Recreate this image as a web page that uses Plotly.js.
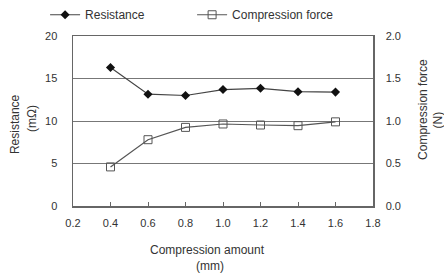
<!DOCTYPE html>
<html>
<head>
<meta charset="utf-8">
<script src="https://cdn.plot.ly/plotly-3.0.1.min.js"></script>
<style>html,body{margin:0;padding:0;background:#fff;}#chart{width:444px;height:274px;}</style>
</head>
<body>
<div id="chart"></div>
<script>
const compression = [0.4, 0.6, 0.8, 1.0, 1.2, 1.4, 1.6];
const resistance = [16.3, 13.15, 13.0, 13.7, 13.85, 13.45, 13.4];
const force = [0.46, 0.78, 0.925, 0.965, 0.953, 0.945, 0.99];
const xTicks = [0.2, 0.4, 0.6, 0.8, 1.0, 1.2, 1.4, 1.6, 1.8];
const xTickLabels = ['0.2', '0.4', '0.6', '0.8', '1.0', '1.2', '1.4', '1.6', '1.8'];
const leftTicks = [0, 5, 10, 15, 20];
const rightTicks = [0, 0.5, 1.0, 1.5, 2.0];
const rightTickLabels = ['0.0', '0.5', '1.0', '1.5', '2.0'];
const xTitleLines = ['Compression amount', '(mm)'];
const leftTitleLines = ['Resistance', '(mΩ)'];
const rightTitleLines = ['Compression force', '(N)'];

const font = {family: 'Liberation Sans, Arial, sans-serif', size: 11, color: '#333'};
const titleFont = {family: 'Liberation Sans, Arial, sans-serif', size: 12, color: '#333'};
const legendFont = {family: 'Liberation Sans, Arial, sans-serif', size: 12, color: '#333'};

const data = [
  {x: compression, y: resistance, name: 'Resistance', type: 'scatter', mode: 'lines+markers',
   line: {color: '#444', width: 1.2}, marker: {symbol: 'diamond', size: 7, color: '#111'}, yaxis: 'y', legend: 'legend'},
  {x: compression, y: force, name: 'Compression force', type: 'scatter', mode: 'lines+markers',
   line: {color: '#555', width: 1.2}, marker: {symbol: 'square-open', size: 8, color: '#555', line: {width: 1}}, yaxis: 'y2', legend: 'legend2'}
];

function titleAnn(text, x, y, angle) {
  return {text: text, xref: 'paper', yref: 'paper', x: x, y: y, xanchor: 'center', yanchor: 'middle',
          showarrow: false, textangle: angle, font: titleFont};
}

const layout = {
  width: 444, height: 274,
  margin: {l: 73, r: 71, t: 36, b: 68, autoexpand: false},
  paper_bgcolor: '#fff', plot_bgcolor: '#fff',
  font: font,
  showlegend: true,
  legend: {orientation: 'h', x: -0.093, xanchor: 'left', y: 1.125, yanchor: 'middle',
           font: legendFont, itemwidth: 30, bgcolor: 'rgba(0,0,0,0)'},
  legend2: {orientation: 'h', x: 0.397, xanchor: 'left', y: 1.125, yanchor: 'middle',
           font: legendFont, itemwidth: 30, bgcolor: 'rgba(0,0,0,0)'},
  xaxis: {range: [0.2, 1.8], tickvals: xTicks, ticktext: xTickLabels, showgrid: false, zeroline: false,
          showline: true, linecolor: '#666', linewidth: 1.5, mirror: true, automargin: false,
          ticks: 'inside', ticklen: 4, tickcolor: '#666', tickfont: font, ticklabelstandoff: 6},
  yaxis: {range: [0, 20], tickvals: leftTicks, showgrid: true, gridcolor: '#777', gridwidth: 1, zeroline: false,
          showline: true, linecolor: '#666', linewidth: 1.5, ticks: '', ticklabelstandoff: 12, tickfont: font,
          automargin: false},
  yaxis2: {range: [0, 2], tickvals: rightTicks, ticktext: rightTickLabels, overlaying: 'y', side: 'right',
           showgrid: false, zeroline: false, showline: true, linecolor: '#666', linewidth: 1.5, ticks: '',
           automargin: false, ticklabelstandoff: 9, tickfont: font},
  annotations: [
    titleAnn(xTitleLines[0], 0.4467, -0.2588, 0),
    titleAnn(xTitleLines[1], 0.4567, -0.353, 0),
    titleAnn(leftTitleLines[0], -0.1933, 0.482, -90),
    titleAnn(leftTitleLines[1], -0.1367, 0.518, -90),
    titleAnn(rightTitleLines[0], 1.1667, 0.565, -90),
    titleAnn(rightTitleLines[1], 1.218, 0.506, -90)
  ]
};

Plotly.newPlot('chart', data, layout, {displayModeBar: false, staticPlot: true});
</script>
</body>
</html>
